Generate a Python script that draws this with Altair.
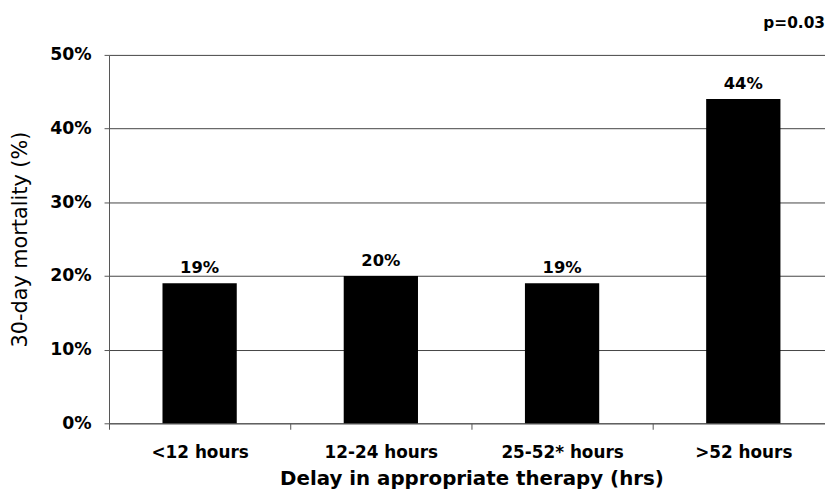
import altair as alt
import pandas as pd

categories = ["<12 hours", "12-24 hours", "25-52* hours", ">52 hours"]
mortality = [0.19, 0.20, 0.19, 0.44]
value_labels = ["19%", "20%", "19%", "44%"]
y_ticks = [0, 0.1, 0.2, 0.3, 0.4, 0.5]

df = pd.DataFrame({"delay": categories, "mortality": mortality, "label": value_labels})

FONT = "DejaVu Sans"

x = alt.X(
    "delay:N",
    sort=categories,
    scale=alt.Scale(range=[0, 732], paddingInner=0, paddingOuter=0),
    axis=alt.Axis(
        title="Delay in appropriate therapy (hrs)",
        labelAngle=0,
        tickBand="extent",
        grid=False,
        tickSize=6,
        labelPadding=16,
        labelFontSize=17,
        labelFontWeight="bold",
        labelColor="black",
        titleFontSize=20,
        titleFontWeight="bold",
        titleColor="black",
        titlePadding=8,
        domainColor="#555555",
        tickColor="#555555",
    ),
)
y = alt.Y(
    "mortality:Q",
    scale=alt.Scale(domain=[0, 0.5], nice=False, zero=True),
    axis=alt.Axis(
        values=y_ticks,
        format=".0%",
        title="30-day mortality (%)",
        grid=True,
        gridColor="#444444",
        gridWidth=1,
        tickSize=5,
        labelPadding=13,
        labelFontSize=17.5,
        labelFontWeight="bold",
        labelColor="black",
        titleFontSize=21,
        titleFontWeight="normal",
        titleColor="black",
        titleX=-89,
        titleBaseline="middle",
        domainColor="#555555",
        tickColor="#555555",
    ),
)

base = alt.Chart(df).encode(x=x, y=y)
bars = base.mark_bar(size=75, color="black")
texts = base.mark_text(
    dy=-10, baseline="alphabetic", fontSize=16.5, fontWeight="bold", font=FONT, color="black"
).encode(text="label:N")

chart = (
    alt.layer(bars, texts)
    .properties(
        width=723,
        height=372,
        autosize=alt.AutoSizeParams(type="none"),
        padding={"left": 102, "top": 45, "right": 0, "bottom": 67},
        title=alt.TitleParams(
            "p=0.03",
            anchor="end",
            frame="group",
            fontSize=15.5,
            fontWeight="bold",
            font=FONT,
            color="black",
            baseline="middle",
            offset=8,
        ),
    )
    .configure_view(stroke=None)
    .configure_axis(labelFont=FONT, titleFont=FONT)
)

chart.save("out.html", embed_options={"renderer": "svg", "actions": False})
